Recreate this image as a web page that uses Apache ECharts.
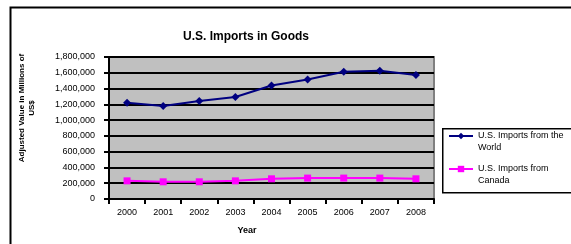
<!DOCTYPE html>
<html>
<head>
<meta charset="utf-8">
<script src="https://cdn.jsdelivr.net/npm/echarts@6/dist/echarts.min.js"></script>
<style>
  html, body { margin: 0; padding: 0; background: #fff; }
  #main { width: 571px; height: 244px; }
</style>
</head>
<body>
<div id="main"></div>
<script>
// values (millions of US$)
const years = ['2000', '2001', '2002', '2003', '2004', '2005', '2006', '2007', '2008'];
const worldImports = [1221000, 1178000, 1242000, 1293000, 1439000, 1516000, 1613000, 1626000, 1571000];
const canadaImports = [230000, 218000, 218000, 230000, 256000, 265000, 265000, 265000, 256000];
const worldName = 'U.S. Imports from the World';
const canadaName = 'U.S. Imports from Canada';

const chart = echarts.init(document.getElementById('main'));
const font = 'Liberation Sans, Arial, sans-serif';

// legend text: empty first line so the icon sits level with the first text line
const legendLabel = function (name) {
  return name === worldName ? '\nU.S. Imports from the\nWorld' : '\nU.S. Imports from\nCanada';
};
const legendText = { fontFamily: font, fontSize: 9, color: '#000', lineHeight: 12 };

let option = {
  animation: false,
  title: {
    text: 'U.S. Imports in Goods',
    left: 183,
    top: 31,
    padding: 0,
    textStyle: { fontFamily: font, fontSize: 12, fontWeight: 'bold', color: '#000' }
  },
  legend: [
    {
      data: [worldName],
      left: 448, top: 118, padding: 0,
      itemWidth: 24, itemHeight: 8,
      formatter: legendLabel,
      textStyle: legendText
    },
    {
      data: [canadaName],
      left: 448, top: 151, padding: 0,
      itemWidth: 24, itemHeight: 8,
      formatter: legendLabel,
      textStyle: legendText
    }
  ],
  grid: {
    left: 109, right: 137, top: 57, bottom: 45,
    show: true,
    backgroundColor: '#C0C0C0',
    borderColor: '#808080',
    borderWidth: 2
  },
  xAxis: {
    type: 'category',
    data: years,
    boundaryGap: true,
    axisLine: { lineStyle: { color: '#000', width: 2 } },
    axisTick: { show: true, interval: 0, length: 5, lineStyle: { color: '#000', width: 2 } },
    axisLabel: { margin: 9, fontFamily: font, fontSize: 9, color: '#000', interval: 0 },
    splitLine: { show: false }
  },
  yAxis: {
    type: 'value',
    min: 0, max: 1800000, interval: 200000,
    axisLine: { show: true, lineStyle: { color: '#000', width: 2 } },
    axisTick: { show: true, length: 5, lineStyle: { color: '#000', width: 2 } },
    axisLabel: {
      margin: 14, fontFamily: font, fontSize: 9, color: '#000',
      formatter: function (v) { return v.toLocaleString('en-US'); }
    },
    splitLine: { show: true, lineStyle: { color: '#000', width: 2 } }
  },
  graphic: [
    { type: 'rect', left: 8, top: 5, shape: { width: 600, height: 300 }, silent: true, z: -10,
      style: { fill: 'none', stroke: '#000', lineWidth: 2 } },
    { type: 'rect', left: 442, top: 128, shape: { width: 160, height: 64 }, silent: true, z: -5,
      style: { fill: '#fff', stroke: '#000', lineWidth: 1.5 } },
    { type: 'text', x: 27, y: 108, rotation: Math.PI / 2, silent: true,
      style: { text: 'Adjusted Value in Millions of\nUS$', fontFamily: font, fontSize: 8, fontWeight: 'bold',
        fill: '#000', align: 'center', verticalAlign: 'middle', lineHeight: 10 } },
    { type: 'text', x: 247, y: 231, silent: true,
      style: { text: 'Year', fontFamily: font, fontSize: 9, fontWeight: 'bold',
        fill: '#000', align: 'center', verticalAlign: 'middle' } }
  ],
  series: [
    {
      name: worldName,
      type: 'line',
      data: worldImports,
      symbol: 'diamond',
      symbolSize: 8,
      lineStyle: { color: '#000080', width: 2 },
      itemStyle: { color: '#000080' }
    },
    {
      name: canadaName,
      type: 'line',
      data: canadaImports,
      symbol: 'rect',
      symbolSize: 7,
      lineStyle: { color: '#FF00FF', width: 2 },
      itemStyle: { color: '#FF00FF' }
    }
  ]
};

option && chart.setOption(option);
</script>
</body>
</html>
